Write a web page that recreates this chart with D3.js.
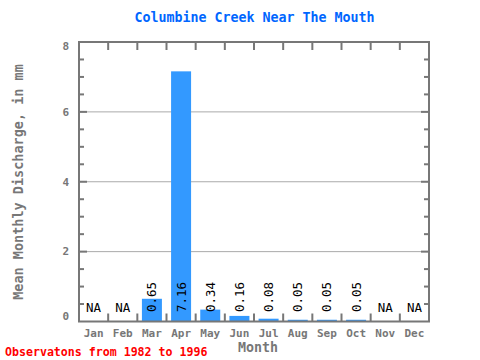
<!DOCTYPE html>
<html><head><meta charset="utf-8">
<script src="https://cdn.jsdelivr.net/npm/d3@7"></script>
<style>body{margin:0;background:#fff}svg{display:block}</style>
</head><body>
<svg id="c" width="480" height="360"></svg>
<script>
const months = ["Jan","Feb","Mar","Apr","May","Jun","Jul","Aug","Sep","Oct","Nov","Dec"];
const values = [null,null,0.65,7.16,0.34,0.16,0.08,0.05,0.05,0.05,null,null];
const labels = ["NA","NA","0.65","7.16","0.34","0.16","0.08","0.05","0.05","0.05","NA","NA"];
const yTicks = [0,2,4,6,8];
const title = "Columbine Creek Near The Mouth";
const yTitle = "Mean Monthly Discharge, in mm";
const xTitle = "Month";
const note = "Observatons from 1982 to 1996";

const svg = d3.select("#c");
const font = "'DejaVu Sans Mono', monospace";
const L = 79, R = 429, T = 42, B = 321.5;
const x = d3.scaleBand().domain(months).range([L, R]).padding(0);
const y = d3.scaleLinear().domain([0, 8]).range([B, T]);
const axisCol = "#777";

// gridlines
svg.append("g").selectAll("line").data([2,4,6]).join("line")
  .attr("x1", L).attr("x2", R).attr("y1", d => y(d)).attr("y2", d => y(d))
  .attr("stroke", "#aaa").attr("stroke-width", 1);

// bars
const bw = 20;
svg.append("g").selectAll("rect").data(months.map((m,i)=>({m, v: values[i]})).filter(d => d.v != null))
  .join("rect")
  .attr("x", d => x(d.m) + x.bandwidth()/2 - bw/2)
  .attr("width", bw)
  .attr("y", d => y(d.v))
  .attr("height", d => B - y(d.v))
  .attr("fill", "#3399ff");

// ticks on left/right (minor every 0.5, major every 2)
const yt = d3.range(0.5, 8, 0.5);
const tk = svg.append("g").attr("stroke", axisCol).attr("stroke-width", 2);
yt.forEach(v => {
  const len = (v % 2 === 0) ? 8 : 5;
  tk.append("line").attr("x1", L).attr("x2", L + len).attr("y1", y(v)).attr("y2", y(v));
  tk.append("line").attr("x1", R).attr("x2", R - len).attr("y1", y(v)).attr("y2", y(v));
});
// month boundary ticks top and bottom
d3.range(1, 12).forEach(i => {
  const xx = x(months[i]);
  tk.append("line").attr("x1", xx).attr("x2", xx).attr("y1", T).attr("y2", T + 8);
  tk.append("line").attr("x1", xx).attr("x2", xx).attr("y1", B).attr("y2", B - 8);
});
// frame
svg.append("rect").attr("x", L).attr("y", T).attr("width", R - L).attr("height", B - T)
  .attr("fill", "none").attr("stroke", axisCol).attr("stroke-width", 2);

// y tick labels
svg.append("g").selectAll("text").data(yTicks).join("text")
  .attr("x", 69)
  .attr("y", d => y(d) + (d === 8 ? 4.5 : d === 0 ? -5.5 : 0))
  .attr("dy", "0.35em")
  .attr("text-anchor", "end")
  .attr("font-family", font).attr("font-size", 11).attr("font-weight", "bold")
  .attr("fill", axisCol)
  .text(d => d);

// x tick labels
svg.append("g").selectAll("text").data(months).join("text")
  .attr("x", m => x(m) + x.bandwidth()/2)
  .attr("y", 333).attr("dy", "0.35em")
  .attr("text-anchor", "middle")
  .attr("font-family", font).attr("font-size", 11).attr("font-weight", "bold")
  .attr("fill", axisCol)
  .text(m => m);

// value labels
months.forEach((m, i) => {
  const cx = x(m) + x.bandwidth()/2;
  if (values[i] == null) {
    svg.append("text").attr("x", cx).attr("y", 308).attr("dy", "0.35em")
      .attr("text-anchor", "middle").attr("font-family", font).attr("font-size", 12.5)
      .attr("fill", "#000").text(labels[i]);
  } else {
    svg.append("text").attr("transform", `translate(${cx + 4.5},312) rotate(-90)`)
      .attr("text-anchor", "start").attr("font-family", font).attr("font-size", 12.5)
      .attr("fill", "#000").text(labels[i]);
  }
});

// titles
svg.append("text").attr("x", 254.5).attr("y", 17).attr("dy", "0.35em").attr("text-anchor", "middle")
  .attr("font-family", font).attr("font-size", 13.3).attr("font-weight", "bold")
  .attr("fill", "#0066ff").text(title);
svg.append("text").attr("x", 258).attr("y", 347).attr("dy", "0.35em").attr("text-anchor", "middle")
  .attr("font-family", font).attr("font-size", 13.3).attr("font-weight", "bold")
  .attr("fill", axisCol).text(xTitle);
svg.append("text").attr("transform", "translate(18,182) rotate(-90)").attr("dy", "0.35em")
  .attr("text-anchor", "middle")
  .attr("font-family", font).attr("font-size", 13.5).attr("font-weight", "bold")
  .attr("fill", axisCol).text(yTitle);
svg.append("text").attr("x", 5).attr("y", 352).attr("dy", "0.35em")
  .attr("font-family", font).attr("font-size", 11.6).attr("font-weight", "bold")
  .attr("fill", "#ff0000").text(note);
</script>
</body></html>
